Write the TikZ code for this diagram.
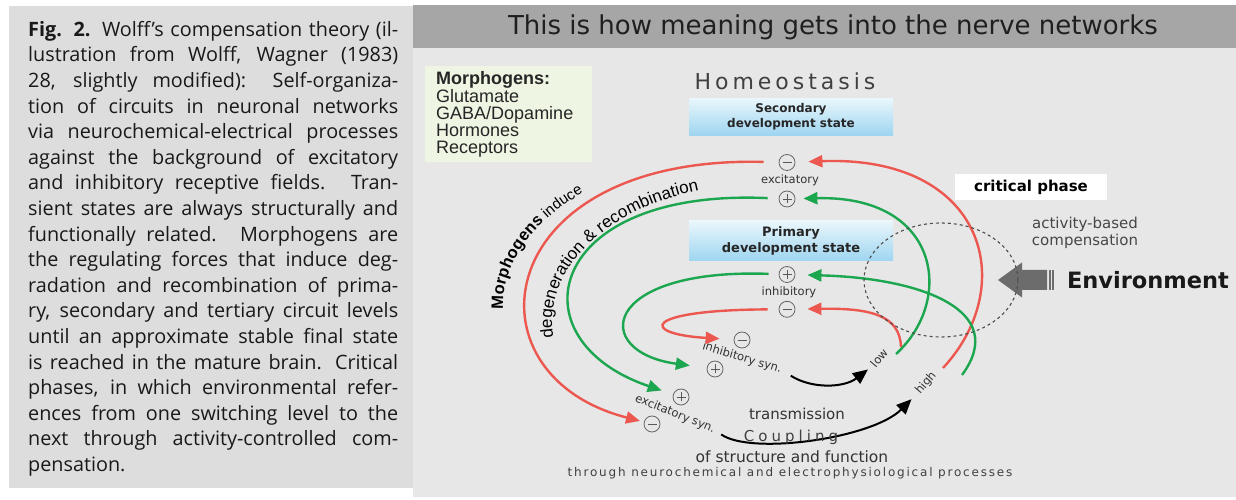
\documentclass[tikz,border=0pt]{standalone}
\usepackage{fontspec}
\usepackage{xcolor}
\usepackage{tikz}
\usetikzlibrary{arrows.meta}
\usetikzlibrary{shapes.geometric}
\usetikzlibrary{positioning, calc}
\newfontfamily\capfont{Open Sans}
\newfontfamily\djv{DejaVu Sans}
\newfontfamily\lib{Liberation Sans}
\definecolor{capgray}{RGB}{221,221,221}
\definecolor{panelgray}{RGB}{231,231,231}
\definecolor{headgray}{RGB}{166,166,166}
\definecolor{morphgreen}{RGB}{238,245,227}
\definecolor{linered}{RGB}{236,88,80}
\definecolor{linegreen}{RGB}{28,166,80}
\definecolor{statetop}{RGB}{234,247,252}
\definecolor{statebot}{RGB}{158,213,240}
\definecolor{envgray}{RGB}{108,108,108}

% letters one by one along an elliptic arc, clockwise from a start angle
% #1 cx, #2 cy, #3 rx, #4 ry, #5 start angle, #6 font, #7 letters
\newlength\chw
\newcommand\alongarc[7]{%
  \xdef\arcang{#5}%
  \foreach \c in {#7} {%
    \pgfinterruptpicture\settowidth{\chw}{#6\c}\global\chw=\chw\endpgfinterruptpicture
    \pgfmathsetmacro\arcsp{#3*sqrt(sin(\arcang)^2+(#4/#3)^2*cos(\arcang)^2)}%
    \pgfmathsetmacro\arcmid{\arcang-(\chw/2)/\arcsp*180/pi}%
    \pgfmathsetmacro\arcrot{atan2(-#4*cos(\arcmid),#3*sin(\arcmid))}%
    \node[anchor=base, inner sep=0pt, rotate=\arcrot, font={#6}]
      at ({#1+#3*cos(\arcmid)},{#2+#4*sin(\arcmid)}) {\c};
    \pgfmathsetmacro\arcnxt{\arcang-\chw/\arcsp*180/pi}%
    \xdef\arcang{\arcnxt}%
  }%
}

\tikzset{
  sgn/.style={circle, draw=black!60, line width=0.8pt, minimum size=16pt, inner sep=0pt},
  sgnminus/.style={sgn, path picture={\draw[black!65, line width=0.8pt]
      ([xshift=-4.5pt]path picture bounding box.center) -- ([xshift=4.5pt]path picture bounding box.center);}},
  sgnplus/.style={sgn, path picture={\draw[black!65, line width=0.8pt]
      ([xshift=-4.5pt]path picture bounding box.center) -- ([xshift=4.5pt]path picture bounding box.center)
      ([yshift=-4.5pt]path picture bounding box.center) -- ([yshift=4.5pt]path picture bounding box.center);}},
  redarr/.style={draw=linered, line width=2.4pt, -{Triangle[length=14pt,width=12pt]}},
  grnarr/.style={draw=linegreen, line width=2.4pt, -{Triangle[length=14pt,width=12pt]}},
  blkarr/.style={draw=black, line width=2pt, -{Triangle[length=15pt,width=13pt]}},
  statebox/.style={top color=statetop, bottom color=statebot, minimum width=204pt, align=center, text=black!85},
  tinylbl/.style={font=\djv\fontsize{11.5}{13}\selectfont, text=black!80, inner sep=1pt},
}

\begin{document}
\begin{tikzpicture}[x=1pt, y=1pt]
    \useasboundingbox (0,0) rectangle (1236,500);
    \fill[white] (0,0) rectangle (1236,500);

    % CAPTION PANEL
    \fill[capgray] (9,12) rectangle (413,494);
    \node[anchor=north west, inner sep=0pt, text width=370pt, align=justify,
          font=\capfont\fontsize{19.8}{25.6}\selectfont, text=black!90] (caption) at (28,479)
    {\textbf{Fig. 2.} Wolff’s compensation theory (il-\linebreak
     lustration from Wolff, Wagner (1983)\linebreak
     28, slightly modified): Self-organiza-\linebreak
     tion of circuits in neuronal networks\linebreak
     via neurochemical-electrical processes\linebreak
     against the background of excitatory\linebreak
     and inhibitory receptive fields. Tran-\linebreak
     sient states are always structurally and\linebreak
     functionally related. Morphogens are\linebreak
     the regulating forces that induce deg-\linebreak
     radation and recombination of prima-\linebreak
     ry, secondary and tertiary circuit levels\linebreak
     until an approximate stable final state\linebreak
     is reached in the mature brain. Critical\linebreak
     phases, in which environmental refer-\linebreak
     ences from one switching level to the\linebreak
     next through activity-controlled com-\linebreak
     pensation.};

    % RIGHT PANEL
    \fill[panelgray] (413,3) rectangle (1236,452);
    \fill[headgray] (413,452) rectangle (1236,495);
    \node[font=\djv\fontsize{26}{28}\selectfont, text=black!88] (title) at (833,473)
        {This is how meaning gets into the nerve networks};

    \fill[morphgreen] (425,338) rectangle (592,434);
    \node[anchor=north west, inner sep=0pt, align=left, text=black!85,
          font=\lib\fontsize{18}{17.3}\selectfont] (morph) at (436,428.5)
        {\textbf{Morphogens:}\\Glutamate\\GABA/Dopamine\\Hormones\\Receptors};

    \node[font=\djv\fontsize{22}{24}\selectfont\addfontfeature{LetterSpace=18}, text=black!75] (homeo) at (785,418.5) {Homeostasis};

    \node[statebox, minimum height=37pt, font=\djv\bfseries\fontsize{12}{15}\selectfont] (sec) at (791,383.3)
        {Secondary\\development state};
    \node[statebox, minimum height=40pt, font=\djv\bfseries\fontsize{13}{16}\selectfont] (prim) at (791,259)
        {Primary\\development state};

    % SIGN NODES
    \foreach \n/\x/\y in {exm/787/337.5, inm/787/190.7, synim/742/160, synem/652/76}
        \node[sgnminus] (\n) at (\x,\y) {};
    \foreach \n/\x/\y in {exp/787/301, inp/787/225.5, synip/715/131, synep/681/103}
        \node[sgnplus] (\n) at (\x,\y) {};

    \node[tinylbl] (exlbl) at (790,320) {excitatory};
    \node[tinylbl] (inlbl) at (789,208) {inhibitory};
    \node[tinylbl, rotate=-17] (synilbl) at (742,142) {inhibitory syn.};
    \node[tinylbl, rotate=-22] (synelbl) at (675,86) {excitatory syn.};
    \node[tinylbl, rotate=50] (lowlbl) at (879,142) {low};
    \node[tinylbl, rotate=50] (highlbl) at (926,117) {high};

    % FREE ENDS NEAR LOW / HIGH
    \coordinate (lowr) at (901,153);
    \coordinate (lowg) at (896,146);
    \coordinate (highr) at (943,132);
    \coordinate (highg) at (962,125);

    % RIGHT SIDE
    \draw[redarr, shorten >=13pt] (highr) .. controls (1020,215) and (985,345) .. (exm);
    \draw[grnarr, shorten >=8pt] (lowg) .. controls (955,200) and (940,305) .. (exp);
    \draw[grnarr, shorten >=12pt] (highg) .. controls (1010,190) and (920,222) .. (inp);
    \draw[redarr, shorten >=12pt] (lowr) .. controls (900,185) and (870,192) .. (inm);

    % LEFT SIDE
    \draw[redarr, shorten <=15pt, shorten >=4pt] (exm) .. controls (490,345) and (460,125) .. (synem);
    \draw[grnarr, shorten <=11pt, shorten >=12pt] (exp) .. controls (545,312) and (512,160) .. (synep);
    \draw[grnarr, shorten <=10pt, shorten >=17pt] (inp) .. controls (600,232) and (590,148) .. (synip);
    \draw[redarr, shorten <=11pt, shorten >=14pt] (inm) .. controls (640,190) and (640,166) .. (synim);

    % TRANSMISSION
    \draw[blkarr, shorten <=10pt, shorten >=5pt] (synilbl.east) to[bend right=35] (lowlbl.west);
    \draw[blkarr, shorten <=7pt, shorten >=8pt] (synelbl.east) .. controls +(35,-25) and +(-45,-45) .. (highlbl.west);

    % CURVED LABELS
    \alongarc{770}{195}{267}{157}{181.5}{\lib\bfseries\fontsize{16.5}{18}\selectfont}{M,o,r,p,h,o,g,e,n,s}
    \alongarc{770}{195}{267}{157}{\arcang}{\lib\fontsize{15}{18}\selectfont}{~,i,n,d,u,c,e}
    \alongarc{762}{178}{210}{138}{186.5}{\lib\fontsize{17}{18}\selectfont}{d,e,g,e,n,e,r,a,t,i,o,n,~,\&,~,r,e,c,o,m,b,i,n,a,t,i,o,n}

    \node[font=\djv\fontsize{15}{17}\selectfont, text=black!80] (trans) at (797,86) {transmission};
    \node[font=\djv\fontsize{15}{17}\selectfont\addfontfeature{LetterSpace=27}, text=black!75] (coup) at (791,63) {Coupling};
    \node[font=\djv\fontsize{15.5}{17}\selectfont, text=black!80] (struct) at (792,43) {of structure and function};
    \node[font=\djv\fontsize{12}{13}\selectfont\addfontfeature{LetterSpace=15}, text=black!75] (through) at (790,27)
        {through neurochemical and electrophysiological processes};

    % CRITICAL PHASE
    \node[fill=white, minimum width=152pt, minimum height=26pt, font=\djv\bfseries\fontsize{15}{17}\selectfont] (crit) at (1031,313) {critical phase};
    \node[align=center, font=\djv\fontsize{15}{17}\selectfont, text=black!72] (abc) at (1085,267.5) {activity-based\\compensation};
    \node[font=\djv\bfseries\fontsize{22.5}{25}\selectfont, text=black!90] (env) at (1148,220) {Environment};
    \fill[envgray] (998,220) -- (1022,237.5) -- (1022,230) -- (1047,230) -- (1047,210) -- (1022,210) -- (1022,202.5) -- cycle;
    \fill[envgray] (1048.5,210) rectangle (1050.5,230);
    \fill[envgray] (1052,210) rectangle (1054,230);
    \node[ellipse, draw=black!70, dashed, line width=1.1pt, minimum width=154pt, minimum height=114pt] (critcirc) at (941,220) {};
\end{tikzpicture}
\end{document}
